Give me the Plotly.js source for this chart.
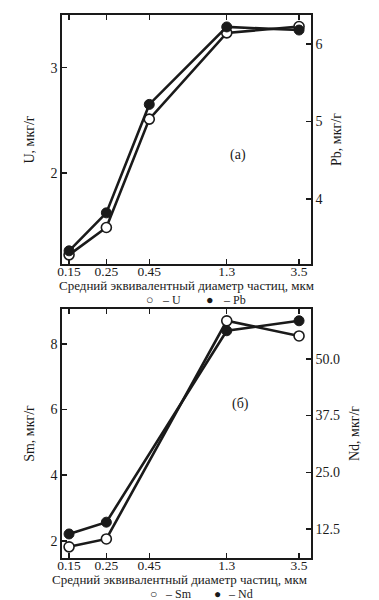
<!DOCTYPE html>
<html><head><meta charset="utf-8">
<script src="https://cdn.plot.ly/plotly-3.0.1.min.js"></script>
<style>body{margin:0;background:#fff}#c{width:379px;height:600px}</style>
</head><body><div id="c"></div>
<script>
const sizes = [0.15, 0.25, 0.45, 1.3, 3.5];
const sizeLabels = ["0.15", "0.25", "0.45", "1.3", "3.5"];
const uVals = [1.22, 1.48, 2.51, 3.33, 3.39];
const pbVals = [3.33, 3.82, 5.22, 6.22, 6.18];
const smSizes = [0.15, 0.25, 1.3, 3.5];
const smVals = [1.82, 2.06, 8.70, 8.24];
const ndVals = [11.4, 14.0, 56.2, 58.4];
const xTitle = "Средний эквивалентный диаметр частиц, мкм";

const F = "Liberation Serif, Times New Roman, serif";
const C = "#1a1a1a";
const line = {color: C, width: 2.6};
const openM = {symbol: "circle", size: 10, color: "#fff", line: {color: C, width: 1.6}};
const fillM = {symbol: "circle", size: 10, color: C, line: {color: C, width: 1}};

const traces = [
  {x: sizes, y: uVals, xaxis: "x", yaxis: "y", mode: "lines+markers", line, marker: openM, name: "U"},
  {x: sizes, y: pbVals, xaxis: "x", yaxis: "y2", mode: "lines+markers", line, marker: fillM, name: "Pb"},
  {x: smSizes, y: smVals, xaxis: "x2", yaxis: "y3", mode: "lines+markers", line, marker: openM, name: "Sm"},
  {x: smSizes, y: ndVals, xaxis: "x2", yaxis: "y4", mode: "lines+markers", line, marker: fillM, name: "Nd"}
];

const xd = [62/379, 311/379];
const topD = [(600-264)/600, (600-15)/600];
const botD = [(600-558)/600, (600-309)/600];
const tf = {family: F, size: 14, color: C};
const xtf = {family: F, size: 13.5, color: C};
const ttf = {family: F, size: 14, color: C};
const logR = [Math.log10(0.15) - 0.042, Math.log10(3.5) + 0.071];

function xax(anchor) {
  return {type: "log", domain: xd, anchor, range: logR, tickvals: sizes, ticktext: sizeLabels,
    ticks: "inside", ticklen: 5, tickwidth: 1.5, tickcolor: C, showline: true, linecolor: C, linewidth: 1.6,
    mirror: "ticks", showgrid: false, zeroline: false, tickfont: xtf, ticklabelstandoff: -6};
}
function yl(dom, anchor, range, tv, tt, title) {
  return {domain: dom, anchor, range, tickvals: tv, ticktext: tt, ticks: "inside", ticklen: 5, tickwidth: 1.5,
    tickcolor: C, showline: true, linecolor: C, linewidth: 1.6, showgrid: false, zeroline: false, tickfont: tf,
    title: {text: title, font: ttf, standoff: 12}};
}
function yr(over, anchor, range, tv, tt, title) {
  return {overlaying: over, side: "right", anchor, range, tickvals: tv, ticktext: tt, ticks: "inside", ticklen: 5,
    tickwidth: 1.5, tickcolor: C, showline: true, linecolor: C, linewidth: 1.6, showgrid: false, zeroline: false,
    tickfont: tf, title: {text: title, font: ttf, standoff: 10}};
}
function ann(x, y, text, size) {
  return {xref: "paper", yref: "paper", x: x/379, y: 1 - y/600, text, showarrow: false, borderpad: 0,
    xanchor: "center", yanchor: "middle", font: {family: F, size: size || 14, color: C}};
}

const layout = {
  width: 379, height: 600, margin: {l: 0, r: 0, t: 0, b: 0},
  paper_bgcolor: "#fff", plot_bgcolor: "#fff", showlegend: false,
  font: {family: F, color: C},
  xaxis: xax("y"),
  xaxis2: xax("y3"),
  yaxis: yl(topD, "x", [1.133, 3.50], [2, 3], ["2", "3"], "U, мкг/г"),
  yaxis2: yr("y", "x", [3.16, 6.374], [4, 5, 6], ["4", "5", "6"], "Pb, мкг/г"),
  yaxis3: yl(botD, "x2", [1.48, 9.06], [2, 4, 6, 8], ["2", "4", "6", "8"], "Sm, мкг/г"),
  yaxis4: yr("y3", "x2", [6.1, 61.0], [12.5, 25, 37.5, 50], ["12.5", "25.0", "37.5", "50.0"], "Nd, мкг/г"),
  annotations: [
    ann(238, 155, "(а)"),
    ann(240, 404, "(б)"),
    ann(186, 285, xTitle, 13),
    ann(179, 579, xTitle, 13),
    ann(150, 300, "○", 12.5), ann(171, 300, "– U", 12),
    ann(210, 300, "●", 12.5), ann(234, 300, "– Pb", 12),
    ann(153, 594, "○", 12), ann(178, 594, "– Sm", 12),
    ann(217, 594, "●", 12), ann(240, 594, "– Nd", 12)
  ]
};
Plotly.newPlot("c", traces, layout, {displayModeBar: false, staticPlot: true});
</script></body></html>
